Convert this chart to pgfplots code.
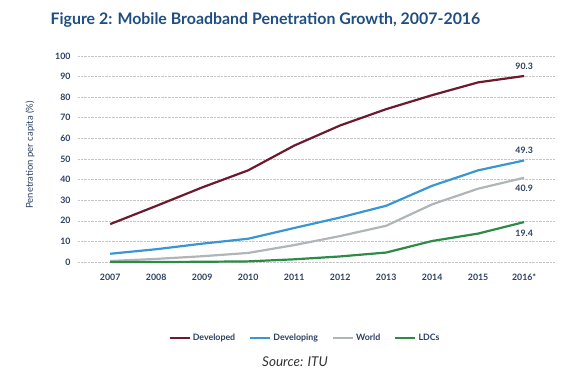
\documentclass[border=0pt]{standalone}
\usepackage{fontspec}
\setmainfont{Lato}
\usepackage{pgfplots}
\pgfplotsset{compat=1.18}
\definecolor{dev}{HTML}{6D1A2E}
\definecolor{deving}{HTML}{3A96D2}
\definecolor{world}{HTML}{B0B5B8}
\definecolor{ldc}{HTML}{2E8B47}
\definecolor{navy}{HTML}{2B3F60}
\definecolor{titleblue}{HTML}{1F4E82}
\begin{document}
\begin{tikzpicture}[x=1pt,y=1pt]
\useasboundingbox (-78,-118) rectangle (508,262);
\begin{axis}[
  at={(0,0)}, anchor=origin,
  scale only axis, width=477pt, height=206pt,
  xmin=2006.3, xmax=2016.67, ymin=0, ymax=100,
  axis line style={draw=none},
  major tick length=0pt,
  xtick={2007,...,2016},
  xticklabels={2007,2008,2009,2010,2011,2012,2013,2014,2015,2016*},
  ytick={0,10,...,100},
  ymajorgrids, grid style={densely dotted, gray!45, line width=0.6pt},
  tick label style={font=\fontsize{8.8}{10}\selectfont\bfseries, text=navy},
  /pgf/number format/assume math mode=true,
  xticklabel style={yshift=-8pt, text height=6.5pt, text depth=1pt},
  yticklabel style={xshift=-4pt},
  legend style={at={(0.476,-0.369)}, anchor=center, draw=none, legend columns=4,
    font=\fontsize{8.8}{10}\selectfont\bfseries, text=navy,
    /tikz/every even column/.append style={column sep=12pt}},
  legend image code/.code={\draw[#1, line width=2.2pt] (0pt,0pt) -- (20pt,0pt);},
  clip=false,
]
\addplot[dev, line width=2.2pt] coordinates {(2007,18.4)(2008,27.2)(2009,36.2)(2010,44.5)(2011,56.5)(2012,66.3)(2013,74.2)(2014,81)(2015,87.2)(2016,90.3)};
\addlegendentry{Developed}
\addplot[deving, line width=2.2pt] coordinates {(2007,4)(2008,6.2)(2009,8.9)(2010,11.3)(2011,16.5)(2012,21.6)(2013,27.3)(2014,37)(2015,44.5)(2016,49.3)};
\addlegendentry{Developing}
\addplot[world, line width=2.2pt] coordinates {(2007,0.5)(2008,1.5)(2009,2.8)(2010,4.4)(2011,8.2)(2012,12.6)(2013,17.6)(2014,28)(2015,35.6)(2016,40.9)};
\addlegendentry{World}
\addplot[ldc, line width=2.2pt] coordinates {(2007,0)(2008,0)(2009,0.1)(2010,0.3)(2011,1.3)(2012,2.7)(2013,4.6)(2014,10.2)(2015,13.8)(2016,19.4)};
\addlegendentry{LDCs}
\node[font=\fontsize{8.8}{10}\selectfont\bfseries, text=navy, above=3pt] at (axis cs:2016,90.3) {90.3};
\node[font=\fontsize{8.8}{10}\selectfont\bfseries, text=navy, above=3pt] at (axis cs:2016,49.3) {49.3};
\node[font=\fontsize{8.8}{10}\selectfont\bfseries, text=navy, below=4pt] at (axis cs:2016,40.9) {40.9};
\node[font=\fontsize{8.8}{10}\selectfont\bfseries, text=navy, below=4pt] at (axis cs:2016,19.4) {19.4};
\node[font=\fontsize{15.9}{19}\selectfont\bfseries, text=titleblue] at (rel axis cs:0.393,1.175) {Figure 2: Mobile Broadband Penetration Growth, 2007-2016};
\node[font=\fontsize{9.5}{11}\selectfont, text=navy, rotate=90] at (rel axis cs:-0.1006,0.52) {Penetration per capita (\%)};
\node[font=\fontsize{13.5}{15}\selectfont\itshape, text=black!80] at (rel axis cs:0.455,-0.485) {Source: ITU};
\end{axis}
\end{tikzpicture}
\end{document}
